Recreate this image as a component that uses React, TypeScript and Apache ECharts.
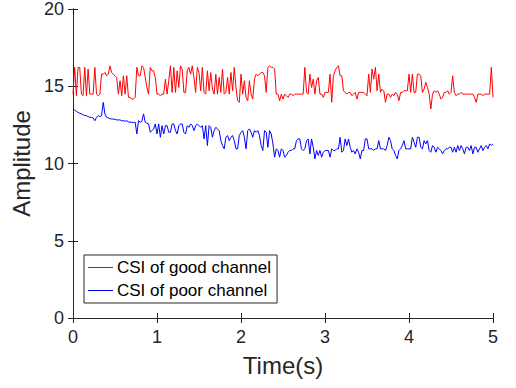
import React, { useEffect, useRef } from "react";
import * as echarts from "echarts";

// Sampling period of the measurements (s)
const SAMPLE_STEP = 0.02;

// CSI amplitude, good channel (one sample per 0.02 s, 0 .. 5 s)
const goodChannel: number[] = [
  // 0 - 1 s
  14.49, 16.22, 14.39, 16.22, 16.22, 14.49, 14.39, 16.22, 14.39, 16.11,
  14.49, 14.49, 14.49, 16.22, 14.49, 14.39, 14.49, 15.78, 15.78, 15.89,
  15.68, 15.78, 16.32, 15.89, 15.78, 15.68, 15.57, 14.49, 15.36, 14.39,
  15.68, 14.49, 15.68, 14.28, 14.28, 14.17, 14.17, 14.28, 16.22, 15.68,
  15.68, 16.32, 16.22, 15.57, 14.92, 14.49, 16.22, 16.0, 16.0, 15.57,
  // 1 - 2 s
  14.49, 14.49, 14.39, 14.49, 14.49, 15.46, 14.49, 15.36, 16.32, 14.6,
  16.22, 14.6, 16.0, 14.92, 16.32, 16.11, 14.6, 14.6, 16.0, 16.22,
  15.78, 16.32, 15.57, 14.6, 16.22, 15.89, 14.71, 16.22, 14.6, 14.49,
  16.0, 14.71, 15.89, 14.82, 14.49, 15.78, 14.49, 15.57, 14.6, 16.11,
  14.49, 14.6, 15.57, 14.49, 15.89, 14.71, 16.22, 14.92, 14.06, 13.96,
  // 2 - 3 s
  15.78, 14.49, 15.36, 14.28, 14.06, 15.36, 14.49, 14.17, 15.46, 15.78,
  15.68, 15.78, 15.89, 15.89, 15.68, 14.6, 16.22, 16.32, 16.22, 16.22,
  16.11, 14.49, 14.49, 14.06, 14.49, 14.17, 14.49, 14.39, 14.28, 14.49,
  14.49, 14.39, 14.49, 14.49, 14.49, 14.49, 14.49, 14.49, 16.22, 14.6,
  14.49, 15.78, 14.92, 15.46, 14.49, 15.36, 15.57, 14.49, 14.49, 14.28,
  // 3 - 4 s
  14.6, 14.6, 14.6, 15.78, 13.96, 15.68, 16.0, 16.22, 16.32, 15.68,
  15.68, 14.71, 14.6, 14.49, 14.6, 14.6, 14.39, 14.49, 14.6, 14.17,
  14.6, 14.6, 14.6, 14.6, 14.49, 14.39, 15.78, 14.6, 16.11, 15.46,
  16.22, 14.71, 15.78, 14.6, 14.82, 14.71, 13.96, 14.49, 14.49, 14.28,
  14.49, 14.39, 14.6, 14.49, 14.06, 14.6, 14.6, 14.71, 14.71, 14.71,
  // 4 - 5 s
  15.78, 14.6, 15.78, 14.6, 14.6, 15.78, 15.78, 15.68, 14.6, 14.82,
  15.25, 14.92, 14.49, 13.53, 14.49, 14.71, 14.6, 14.71, 14.49, 14.17,
  14.28, 14.6, 14.6, 14.71, 14.49, 14.6, 15.68, 14.6, 14.39, 14.49,
  14.49, 14.6, 14.49, 14.49, 14.49, 14.49, 14.49, 14.49, 14.49, 14.28,
  13.96, 14.49, 14.49, 14.49, 14.39, 14.49, 14.49, 14.49, 14.49, 16.22,
  14.28,
];

// CSI amplitude, poor channel
const poorChannel: number[] = [
  // 0 - 1 s
  13.53, 13.46, 13.38, 13.31, 13.25, 13.21, 13.16, 13.1, 13.1, 13.03,
  12.99, 12.99, 12.95, 12.77, 12.99, 13.1, 13.03, 13.1, 13.96, 13.21,
  12.99, 12.95, 12.9, 12.88, 12.88, 12.86, 12.82, 12.82, 12.82, 12.77,
  12.77, 12.73, 12.77, 12.69, 12.67, 12.67, 12.65, 12.67, 11.91, 12.77,
  12.67, 12.73, 13.21, 12.67, 12.6, 12.56, 12.02, 12.13, 12.24, 12.56,
  // 1 - 2 s
  11.91, 12.56, 11.7, 12.45, 11.91, 12.45, 12.45, 12.02, 12.02, 12.56,
  12.56, 12.13, 11.91, 12.45, 12.56, 12.56, 12.02, 11.91, 12.45, 12.34,
  12.56, 12.45, 12.13, 12.45, 12.56, 12.45, 12.34, 12.45, 11.59, 12.45,
  11.16, 12.45, 12.34, 11.7, 12.13, 12.34, 12.24, 12.13, 11.48, 11.16,
  10.95, 11.7, 11.81, 11.48, 11.7, 11.81, 11.48, 10.95, 10.95, 11.81,
  // 2 - 3 s
  12.02, 12.13, 11.7, 10.95, 12.13, 12.24, 12.02, 11.7, 12.13, 12.02,
  12.13, 11.81, 11.16, 10.84, 12.13, 12.02, 11.05, 12.13, 11.91, 11.27,
  10.41, 10.95, 10.84, 10.41, 10.95, 10.84, 10.41, 10.52, 10.73, 10.84,
  10.84, 10.95, 10.95, 11.48, 11.59, 11.59, 10.95, 10.84, 10.95, 11.48,
  11.59, 10.62, 11.59, 11.05, 10.3, 10.84, 10.52, 10.84, 10.41, 10.73,
  // 3 - 4 s
  10.84, 10.84, 10.84, 10.41, 10.95, 10.84, 10.84, 10.95, 10.95, 11.7,
  10.73, 10.84, 11.59, 11.16, 11.59, 11.05, 10.73, 10.84, 10.62, 10.95,
  10.73, 10.3, 10.84, 10.84, 11.59, 11.59, 10.95, 10.95, 10.95, 10.84,
  10.95, 10.95, 11.48, 10.95, 10.95, 10.95, 10.84, 11.16, 11.7, 11.48,
  10.95, 10.84, 10.52, 10.3, 10.84, 10.95, 11.16, 11.48, 10.95, 10.95,
  // 4 - 5 s
  10.95, 10.95, 11.7, 11.38, 11.05, 11.7, 11.7, 11.05, 10.95, 11.48,
  11.27, 11.48, 10.84, 10.73, 11.16, 11.05, 10.73, 11.05, 10.95, 10.84,
  10.62, 10.84, 10.95, 10.95, 11.05, 11.05, 10.73, 11.05, 10.73, 11.16,
  10.84, 11.16, 10.95, 10.62, 11.05, 11.05, 10.84, 11.16, 10.62, 11.05,
  11.05, 10.73, 10.95, 11.16, 10.84, 11.05, 11.16, 10.95, 11.27, 11.16,
  11.27,
];

const seriesNames = ["CSI of good channel", "CSI of poor channel"];
const xTicks = { min: 0, max: 5, interval: 1 };
const yTicks = { min: 0, max: 20, interval: 5 };

const FONT = "'Liberation Sans', Arial, Helvetica, sans-serif";
const AXIS_COLOR = "#262626";

function toPairs(values: number[]): [number, number][] {
  return values.map((v, i) => [Number((i * SAMPLE_STEP).toFixed(3)), v]);
}

export default function App() {
  const ref = useRef<HTMLDivElement>(null);

  useEffect(() => {
    if (!ref.current) return;
    const chart = echarts.init(ref.current, undefined, { renderer: "svg" });

    const axisLine = { show: true, lineStyle: { color: AXIS_COLOR, width: 1 } };
    const axisTick = { show: true, inside: true, length: 5, lineStyle: { color: AXIS_COLOR, width: 1 } };

    chart.setOption({
      animation: false,
      backgroundColor: "#ffffff",
      grid: { left: 73, right: 23, top: 8, bottom: 70, containLabel: false },
      legend: {
        orient: "vertical",
        left: 84,
        top: 255,
        padding: [4, 6, 4, 4],
        itemGap: 6,
        itemWidth: 25,
        itemHeight: 14,
        backgroundColor: "#ffffff",
        borderColor: "#262626",
        borderWidth: 1,
        borderRadius: 0,
        textStyle: { fontFamily: FONT, fontSize: 17, color: "#000000", padding: [0, 0, 0, -1] },
        data: seriesNames.map((n) => ({ name: n, icon: "path://M0,7 L25,7 L25,8 L0,8 Z" })),
      },
      xAxis: [
        {
          type: "value",
          position: "bottom",
          min: xTicks.min,
          max: xTicks.max,
          interval: xTicks.interval,
          splitLine: { show: false },
          axisLine,
          axisTick,
          axisLabel: { color: AXIS_COLOR, fontFamily: FONT, fontSize: 18, margin: 10 },
          name: "Time(s)",
          nameLocation: "middle",
          nameGap: 35,
          nameTextStyle: { color: AXIS_COLOR, fontFamily: FONT, fontSize: 24 },
        },
        {
          type: "value",
          position: "top",
          min: xTicks.min,
          max: xTicks.max,
          interval: xTicks.interval,
          splitLine: { show: false },
          axisLine,
          axisTick,
          axisLabel: { show: false },
        },
      ],
      yAxis: [
        {
          type: "value",
          position: "left",
          min: yTicks.min,
          max: yTicks.max,
          interval: yTicks.interval,
          splitLine: { show: false },
          axisLine,
          axisTick,
          axisLabel: { color: AXIS_COLOR, fontFamily: FONT, fontSize: 18, margin: 9 },
          name: "Amplitude",
          nameLocation: "middle",
          nameGap: 36,
          nameTextStyle: { color: AXIS_COLOR, fontFamily: FONT, fontSize: 24 },
        },
        {
          type: "value",
          position: "right",
          min: yTicks.min,
          max: yTicks.max,
          interval: yTicks.interval,
          splitLine: { show: false },
          axisLine,
          axisTick,
          axisLabel: { show: false },
        },
      ],
      series: [
        {
          name: seriesNames[0],
          type: "line",
          data: toPairs(goodChannel),
          symbol: "none",
          color: "#ff0000",
          lineStyle: { color: "#ff0000", width: 1 },
        },
        {
          name: seriesNames[1],
          type: "line",
          data: toPairs(poorChannel),
          symbol: "none",
          color: "#0000ff",
          lineStyle: { color: "#0000ff", width: 1 },
        },
      ],
    });

    return () => chart.dispose();
  }, []);

  return (
    <div
      ref={ref}
      style={{ position: "fixed", left: 0, top: 0, width: 516, height: 388, background: "#fff" }}
    />
  );
}
